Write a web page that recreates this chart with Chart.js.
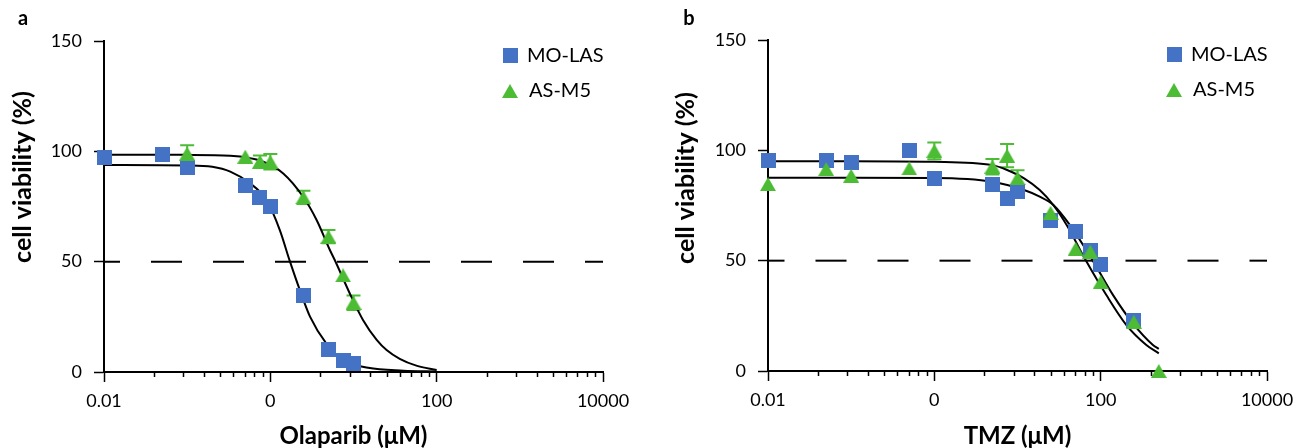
<!DOCTYPE html>
<html>
<head>
<meta charset="utf-8">
<script src="https://cdn.jsdelivr.net/npm/chart.js@4.4.1/dist/chart.umd.min.js"></script>
<style>
  body { margin: 0; background: #fff; }
  .wrap { display: flex; width: 1302px; height: 448px; }
  canvas { display: block; }
</style>
</head>
<body>
<div class="wrap">
  <canvas id="chartA" width="651" height="448"></canvas>
  <canvas id="chartB" width="651" height="448"></canvas>
</div>
<script>
// axis ticks (log axis, labelled every two decades)
const xTickValues = [0.01, 1, 100, 10000];
const xTickLabels = ['0.01', '0', '100', '10000'];
const yTickValues = [0, 50, 100, 150];
const cutoffLine = 50;

// panel a - Olaparib
const olaConcMO = [0.01, 0.05, 0.1, 0.5, 0.75, 1, 2.5, 5, 7.5, 10];
const olaViabMO = [97.3, 98.5, 92.6, 84.7, 79.1, 75.2, 34.7, 10.0, 5.4, 3.9];
const olaConcAS = [0.1, 0.5, 0.75, 1, 2.5, 5, 7.5, 10];
const olaViabAS = [99.0, 97.6, 95.3, 95.3, 79.1, 61.3, 43.8, 31.4];
const olaErrAS = [3.8, 0, 2.8, 3.5, 3.0, 3.0, 0, 3.3];

// fitted curves
const olaFitConcMO = [0.01, 0.1, 0.2, 0.33, 0.57, 0.9, 1.3, 1.7, 2.26, 3, 4.7, 7.5, 15, 40, 100];
const olaFitMO = [93.8, 93.6, 93.0, 90.8, 85.5, 77.9, 64.3, 50.7, 37.2, 25.1, 13.0, 5.4, 1.9, 0.6, 0.2];
const olaFitConcAS = [0.01, 0.1, 0.33, 0.82, 1.43, 2.48, 3.6, 5.2, 6.2, 9, 13, 19, 25, 36, 57, 100];
const olaFitAS = [98.5, 98.4, 98.0, 95.3, 90.0, 79.4, 68.9, 55.3, 49.3, 35.7, 23.6, 14.6, 10.0, 6.0, 2.9, 0.9];

// panel b - TMZ
const tmzConcMO = [0.01, 0.05, 0.1, 0.5, 1, 5, 7.5, 10, 25, 50, 75, 100, 250];
const tmzViabMO = [95.6, 95.6, 94.4, 99.7, 87.3, 84.3, 78.1, 81.4, 68.0, 63.1, 54.8, 48.3, 23.0];
const tmzConcAS = [0.01, 0.05, 0.1, 0.5, 1, 5, 7.5, 10, 25, 50, 75, 100, 250, 500];
const tmzViabAS = [84.7, 91.5, 88.5, 91.8, 99.8, 92.6, 97.6, 87.4, 71.7, 55.4, 54.1, 40.3, 22.3, 0];
const tmzErrAS = [0, 0, 0, 0, 3.8, 3.5, 5.3, 3.6, 0, 0, 0, 0, 0, 0];

const tmzFitConc1 = [0.01, 0.1, 1, 5, 7.5, 12, 18.5, 27, 39, 67, 117, 204, 354, 500];
const tmzFit1 = [95.1, 95.1, 94.8, 93.3, 91.1, 87.3, 82.0, 75.2, 66.2, 49.8, 34.4, 20.8, 11.8, 8.0];
const tmzFitConc2 = [0.01, 0.1, 1, 5, 12, 18.5, 27, 42.5, 81, 141, 244, 425, 500];
const tmzFit2 = [87.6, 87.6, 87.5, 85.8, 82.0, 79.0, 75.2, 66.2, 49.8, 34.4, 21.6, 11.8, 10.0];

const BLUE = '#4472c4';
const GREEN = '#4cbc34';
const FONT = 'Lato';

function toPoints(xs, ys) {
  return xs.map((x, i) => ({ x: x, y: ys[i] }));
}

function makeMarker(shape, color) {
  const c = document.createElement('canvas');
  const g = c.getContext('2d');
  if (shape === 'square') {
    c.width = 15; c.height = 15;
    g.fillStyle = color;
    g.fillRect(0, 0, 15, 15);
  } else {
    c.width = 16; c.height = 14;
    g.fillStyle = color;
    g.beginPath();
    g.moveTo(8, 0); g.lineTo(16, 14); g.lineTo(0, 14);
    g.closePath();
    g.fill();
  }
  return c;
}

const squareImg = makeMarker('square', BLUE);
const triangleImg = makeMarker('triangle', GREEN);

// error bars go under the markers
const errorBarPlugin = {
  id: 'errorBars',
  beforeDatasetsDraw(chart) {
    const { ctx, scales } = chart;
    chart.data.datasets.forEach(ds => {
      if (!ds.errors) return;
      ctx.save();
      ctx.strokeStyle = ds.errorColor;
      ctx.lineWidth = 2;
      ds.data.forEach((p, i) => {
        const e = ds.errors[i];
        if (!e) return;
        const px = scales.x.getPixelForValue(p.x);
        const top = scales.y.getPixelForValue(p.y + e);
        const bot = scales.y.getPixelForValue(p.y - e);
        ctx.beginPath();
        ctx.moveTo(px, top); ctx.lineTo(px, bot);
        ctx.moveTo(px - 7, top); ctx.lineTo(px + 7, top);
        ctx.moveTo(px - 7, bot); ctx.lineTo(px + 7, bot);
        ctx.stroke();
      });
      ctx.restore();
    });
  }
};

// minor log ticks, y title, panel letter, legend
const decorPlugin = {
  id: 'decor',
  afterDraw(chart, args, opts) {
    const { ctx, chartArea, scales } = chart;
    ctx.save();
    // minor ticks between labelled ticks
    ctx.strokeStyle = '#000';
    ctx.lineWidth = 1.5;
    for (let m = 0; m < xTickValues.length - 1; m++) {
      for (let k = 2; k <= 9; k++) {
        const px = Math.round(scales.x.getPixelForValue(xTickValues[m] * k * k)) + 0.5;
        ctx.beginPath();
        ctx.moveTo(px, chartArea.bottom);
        ctx.lineTo(px, chartArea.bottom + 5);
        ctx.stroke();
      }
    }
    ctx.fillStyle = '#000';
    // panel letter
    ctx.font = 'bold 20px ' + FONT;
    ctx.textAlign = 'center';
    ctx.textBaseline = 'middle';
    ctx.fillText(opts.letter, opts.letterX, 19);
    // y axis title
    ctx.save();
    ctx.translate(opts.titleX, opts.titleY);
    ctx.rotate(-Math.PI / 2);
    ctx.font = 'bold 25px ' + FONT;
    ctx.fillText('cell viability (%)', 0, 0);
    ctx.restore();
    // legend
    ctx.font = '20px ' + FONT;
    ctx.textAlign = 'left';
    const lx = chartArea.right - 93;
    ctx.drawImage(squareImg, lx - 7.5, chartArea.top + 14 - 7.5);
    ctx.fillText('MO-LAS', lx + 17, chartArea.top + 15);
    ctx.drawImage(triangleImg, lx - 8, chartArea.top + 50 - 7);
    ctx.fillText('AS-M5', lx + 19, chartArea.top + 50);
    ctx.restore();
  }
};

function buildChart(canvasId, cfg) {
  const datasets = [
    {
      label: 'cutoff',
      data: [{ x: 0.01, y: cutoffLine }, { x: 10000, y: cutoffLine }],
      showLine: true, pointRadius: 0,
      borderColor: '#000', borderWidth: 2,
      borderDash: [31, 31], borderDashOffset: cfg.dashOffset,
      order: 5
    }
  ];
  cfg.fits.forEach(f => {
    datasets.push({
      label: 'fit',
      data: toPoints(f[0], f[1]),
      showLine: true, pointRadius: 0,
      borderColor: '#000', borderWidth: 2,
      cubicInterpolationMode: 'monotone',
      order: 4
    });
  });
  datasets.push({
    label: 'MO-LAS',
    data: toPoints(cfg.mo[0], cfg.mo[1]),
    pointStyle: squareImg, pointRadius: 8,
    backgroundColor: BLUE, borderColor: BLUE,
    clip: false, order: 2
  });
  datasets.push({
    label: 'AS-M5',
    data: toPoints(cfg.as[0], cfg.as[1]),
    errors: cfg.as[2], errorColor: GREEN,
    pointStyle: triangleImg, pointRadius: 8,
    backgroundColor: GREEN, borderColor: GREEN,
    clip: false, order: 1
  });

  return new Chart(document.getElementById(canvasId), {
    type: 'scatter',
    data: { datasets: datasets },
    options: {
      responsive: false,
      animation: false,
      devicePixelRatio: 1,
      layout: { padding: { top: cfg.top, right: cfg.right, left: 0, bottom: 0 } },
      plugins: {
        legend: { display: false },
        tooltip: { enabled: false },
        decor: cfg.decor
      },
      scales: {
        x: {
          type: 'logarithmic',
          min: 0.01, max: 10000,
          afterBuildTicks: s => { s.ticks = xTickValues.map(v => ({ value: v, major: true })); },
          afterFit: s => { s.height = cfg.xHeight; },
          ticks: {
            autoSkip: false, maxRotation: 0, padding: 8,
            color: '#000', font: { family: FONT, size: 18 },
            callback: (v, i) => xTickLabels[i]
          },
          grid: { drawOnChartArea: false, drawTicks: true, tickLength: 10, tickColor: '#000', tickWidth: 1.5 },
          border: { display: true, color: '#000', width: 2 },
          title: {
            display: true, text: cfg.xTitle, color: '#000',
            font: { family: FONT, size: 24, weight: 'bold', lineHeight: 1.0 },
            padding: { top: 0, bottom: 0 }
          }
        },
        y: {
          min: 0, max: 150,
          afterBuildTicks: s => { s.ticks = yTickValues.map(v => ({ value: v })); },
          afterFit: s => { s.width = cfg.yWidth; },
          ticks: { padding: 12, color: '#000', font: { family: FONT, size: 18 } },
          grid: { drawOnChartArea: false, drawTicks: true, tickLength: 10, tickColor: '#000', tickWidth: 1.5 },
          border: { display: true, color: '#000', width: 2 }
        }
      }
    },
    plugins: [errorBarPlugin, decorPlugin]
  });
}

function drawAll() {
  buildChart('chartA', {
    top: 41, right: 48, yWidth: 104, xHeight: 76, dashOffset: 15,
    xTitle: 'Olaparib (\u03bcM)',
    mo: [olaConcMO, olaViabMO],
    as: [olaConcAS, olaViabAS, olaErrAS],
    fits: [[olaFitConcMO, olaFitMO], [olaFitConcAS, olaFitAS]],
    decor: { letter: 'a', letterX: 23, titleX: 23, titleY: 177 }
  });
  buildChart('chartB', {
    top: 40, right: 35, yWidth: 117, xHeight: 77, dashOffset: 14.5,
    xTitle: 'TMZ (\u03bcM)',
    mo: [tmzConcMO, tmzViabMO],
    as: [tmzConcAS, tmzViabAS, tmzErrAS],
    fits: [[tmzFitConc1, tmzFit1], [tmzFitConc2, tmzFit2]],
    decor: { letter: 'b', letterX: 38, titleX: 35, titleY: 178 }
  });
}

Promise.all([
  document.fonts.load('18px Lato'),
  document.fonts.load('bold 20px Lato')
]).then(drawAll, drawAll);
</script>
</body>
</html>
